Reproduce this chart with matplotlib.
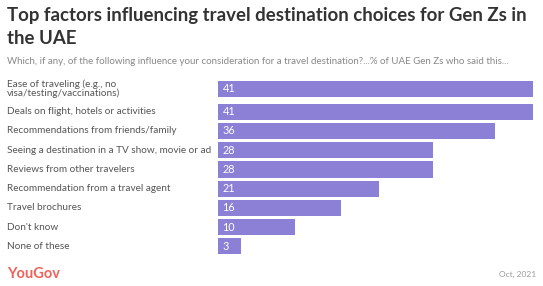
import matplotlib
matplotlib.use("Agg")
import matplotlib.pyplot as plt
import matplotlib.transforms as mtransforms

categories = [
    "Ease of traveling (e.g., no\nvisa/testing/vaccinations)",
    "Deals on flight, hotels or activities",
    "Recommendations from friends/family",
    "Seeing a destination in a TV show, movie or ad",
    "Reviews from other travelers",
    "Recommendation from a travel agent",
    "Travel brochures",
    "Don't know",
    "None of these",
]
values = [41, 41, 36, 28, 28, 21, 16, 10, 3]

W, H = 543, 286
plt.rcParams['font.family'] = ['Lato', 'DejaVu Sans']
fig = plt.figure(figsize=(W / 100, H / 100), dpi=100)

x0, x1 = 218, 533
ytop, ybot = 79, 256
ax = fig.add_axes([x0 / W, 1 - ybot / H, (x1 - x0) / W, (ybot - ytop) / H])

pos = [0] + [1.2 + i for i in range(len(values) - 1)]
bar_h = 0.84
color = "#8B7FD6"
ax.barh(pos, values, height=bar_h, color=color)
ax.set_xlim(0, 41)
ax.set_ylim(pos[-1] + 0.5, pos[0] - 0.5)
ax.axis("off")

trans = mtransforms.blended_transform_factory(fig.transFigure, ax.transData)
for p, v, c in zip(pos, values, categories):
    ax.text(0.6, p, str(v), color="white", va="center", ha="left", fontsize=7.8)
    ax.text(7 / W, p, c, transform=trans, va="center", ha="left",
            fontsize=7.2, color="#555555", linespacing=0.95)

fig.text(7 / W, 1 - 16 / H, "Top factors influencing travel destination choices for Gen Zs in",
         fontsize=13.4, fontweight="bold", color="#333333", va="center", ha="left")
fig.text(7 / W, 1 - 38 / H, "the UAE",
         fontsize=13.4, fontweight="bold", color="#333333", va="center", ha="left")
fig.text(7 / W, 1 - 61 / H,
         "Which, if any, of the following influence your consideration for a travel destination?...% of UAE Gen Zs who said this...",
         fontsize=7, color="#888888", va="center", ha="left")
fig.text(7 / W, 1 - 274 / H, "YouGov", fontsize=10.5, fontweight="bold",
         color="#F0625A", va="center", ha="left")
fig.text(536 / W, 1 - 274 / H, "Oct, 2021", fontsize=6, color="#999999",
         va="center", ha="right")

fig.savefig("out.png", dpi=100)
